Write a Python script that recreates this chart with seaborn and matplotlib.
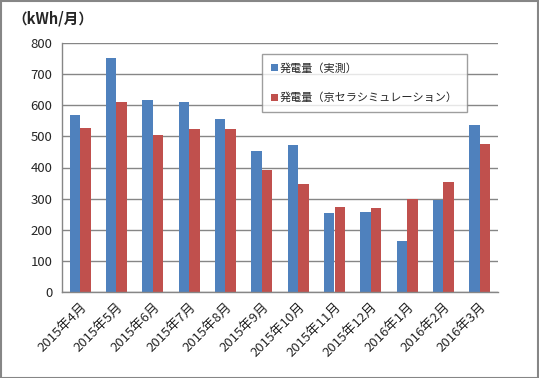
import matplotlib
matplotlib.use('Agg')
import matplotlib.pyplot as plt
import numpy as np
import pandas as pd
import seaborn as sns
from matplotlib.patches import Rectangle

months = ['2015年4月', '2015年5月', '2015年6月', '2015年7月', '2015年8月',
          '2015年9月', '2015年10月', '2015年11月', '2015年12月',
          '2016年1月', '2016年2月', '2016年3月']
actual = [569, 752, 617, 611, 556, 453, 473, 254, 257, 164, 296, 537]
simulated = [527, 611, 505, 524, 524, 392, 347, 273, 270, 299, 354, 476]
series = ['発電量（実測）', '発電量（京セラシミュレーション）']
yticks = [0, 100, 200, 300, 400, 500, 600, 700, 800]

df = pd.DataFrame({
    'month': months * 2,
    'value': actual + simulated,
    'series': [series[0]] * len(months) + [series[1]] * len(months),
})

sns.set_style('white')
plt.rcParams['font.family'] = ['Noto Sans CJK JP', 'DejaVu Sans']

fig = plt.figure(figsize=(5.39, 3.78), dpi=100)
ax = fig.add_axes([62 / 539, 1 - 292 / 378, 436 / 539, 249 / 378])

sns.barplot(data=df, x='month', y='value', hue='series',
            palette=['#4f81bd', '#c0504d'], width=0.58, saturation=1,
            linewidth=0, ax=ax, legend=True)

ax.set_ylim(0, 800)
ax.set_xlim(-0.5, len(months) - 0.5)
ax.set_yticks(yticks)
ax.set_yticklabels([str(t) for t in yticks], fontsize=9.5)
ax.yaxis.grid(True, color='#868686', linewidth=1)
ax.set_axisbelow(True)
ax.set_xlabel('')
ax.set_ylabel('')

ax.set_xticks(range(len(months)))
ax.set_xticklabels(months, rotation=45, ha='right', rotation_mode='anchor',
                   fontsize=9.5)
ax.set_xticks(np.arange(-0.5, len(months)), minor=True)
ax.tick_params(axis='x', which='major', length=0, pad=6)
ax.tick_params(axis='x', which='minor', length=4, color='#868686', width=1)
ax.tick_params(axis='y', length=4, color='#868686', width=1, pad=3)

for s in ['top', 'right']:
    ax.spines[s].set_visible(False)
for s in ['left', 'bottom']:
    ax.spines[s].set_color('#868686')
    ax.spines[s].set_linewidth(1)

leg = ax.legend(loc='upper left', bbox_to_anchor=(200 / 436, 1 - 11 / 249),
                frameon=True, fancybox=False, edgecolor='#868686',
                fontsize=8, handlelength=0.6, handleheight=0.6,
                handletextpad=0.2, labelspacing=1.7, borderpad=0.8,
                borderaxespad=0)
leg.get_frame().set_linewidth(1)

fig.text(12 / 539, 1 - 18 / 378, '（kWh/月）', fontsize=10.5, fontweight='bold',
         va='center', ha='left')

fig.patches.append(Rectangle((0.5 / 539, 0.5 / 378), 537.5 / 539, 376.5 / 378,
                             transform=fig.transFigure, fill=False,
                             edgecolor='#868686', linewidth=1.5))

fig.savefig('out.png', dpi=100)
